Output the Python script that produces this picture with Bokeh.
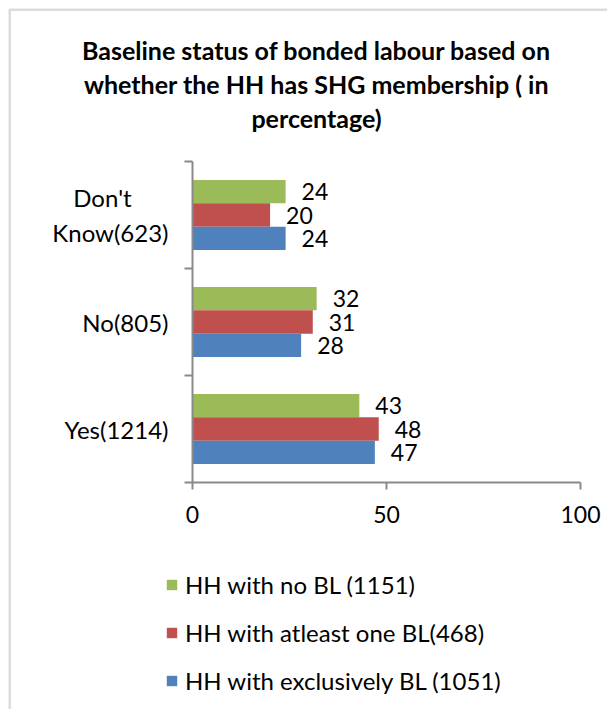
import numpy as np
from bokeh.plotting import figure
from bokeh.models import (FixedTicker, Range1d, Label, Legend, LegendItem,
                          BoxAnnotation, ColumnDataSource, LinearAxis)
from bokeh.core.properties import value
from bokeh.embed import file_html
from bokeh.resources import INLINE

# ---- data ----
categories = ["Yes(1214)", "No(805)", "Don't\u00a0\u00a0\u00a0\u00a0\u00a0\u00a0\nKnow(623)"]
series_names = ["HH with no BL (1151)", "HH with atleast one BL(468)",
                "HH with exclusively BL (1051)"]
no_bl = [43, 32, 24]
atleast_one_bl = [48, 31, 20]
exclusively_bl = [47, 28, 24]
x_ticks = [0, 50, 100]
title_lines = ["Baseline status of bonded labour based on",
               "whether the HH has SHG membership ( in",
               "percentage)"]

colors = ["#9BBB59", "#C0504D", "#4F81BD"]
FONT = "Lato"

# ---- layout (canvas pixels) ----
W, H = 607, 709
X0_PX, X100_PX = 192, 580      # where 0 and 100 sit
YTOP_PX, YBOT_PX = 161, 482    # top / bottom of the category axis
ncat = len(categories)
xs = (X100_PX - X0_PX) / 100.0
ys = (YBOT_PX - YTOP_PX) / ncat

p = figure(width=W, height=H, output_backend="svg", toolbar_location=None,
           x_range=Range1d(-X0_PX / xs, (W - X0_PX) / xs),
           y_range=Range1d(-(H - YBOT_PX) / ys, ncat + YTOP_PX / ys),
           x_axis_location=None, y_axis_location=None,
           min_border=0)
p.outline_line_color = None
p.xgrid.visible = False
p.ygrid.visible = False
p.background_fill_color = "white"
p.border_fill_color = "white"

centers = np.arange(ncat) + 0.5
bar_h = 0.218
offsets = [bar_h, 0.0, -bar_h]
series = [no_bl, atleast_one_bl, exclusively_bl]

items = []
for vals, off, col, name in zip(series, offsets, colors, series_names):
    src = ColumnDataSource(dict(y=centers + off, right=vals,
                                lab=[str(v) for v in vals]))
    r = p.hbar(y="y", left=0, right="right", height=bar_h, source=src,
               fill_color=col, line_color=None)
    p.text(x="right", y="y", text="lab", source=src, x_offset=16,
           text_align="left", text_baseline="middle",
           text_font=value(FONT), text_font_size="23px", text_color="black")
    items.append(LegendItem(label=name, renderers=[r]))

# axes
ax_col = "#898989"
xaxis = LinearAxis(fixed_location=0, bounds=(0, 100),
                   ticker=FixedTicker(ticks=x_ticks))
xaxis.axis_line_color = ax_col
xaxis.axis_line_width = 2
xaxis.major_tick_line_color = ax_col
xaxis.major_tick_line_width = 2
xaxis.major_tick_out = 7
xaxis.major_tick_in = 0
xaxis.minor_tick_line_color = None
xaxis.major_label_text_font = FONT
xaxis.major_label_text_font_size = "23px"
xaxis.major_label_text_color = "black"
xaxis.major_label_standoff = 16
p.add_layout(xaxis, "below")

yaxis = LinearAxis(fixed_location=0, bounds=(0, ncat),
                   ticker=FixedTicker(ticks=list(centers),
                                      minor_ticks=list(range(ncat + 1))))
yaxis.major_label_overrides = {float(c): lab for c, lab in zip(centers, categories)}
yaxis.axis_line_color = ax_col
yaxis.axis_line_width = 2
yaxis.major_tick_line_color = None
yaxis.major_tick_out = 0
yaxis.major_tick_in = 0
yaxis.minor_tick_line_color = ax_col
yaxis.minor_tick_line_width = 2
yaxis.minor_tick_out = 8
yaxis.minor_tick_in = 0
yaxis.major_label_text_font = FONT
yaxis.major_label_text_font_size = "24px"
yaxis.major_label_text_color = "black"
yaxis.major_label_standoff = 16
p.add_layout(yaxis, "left")

# title lines
for i, line in enumerate(title_lines):
    p.add_layout(Label(x=316, y=H - 49 - 34 * i, x_units="screen", y_units="screen",
                       text=line, text_align="center", text_baseline="middle",
                       text_font=FONT, text_font_style="bold",
                       text_font_size="25px", text_color="black"))

# outer frame (left/top edges visible)
p.add_layout(BoxAnnotation(left=9.25, right=W + 50, top=H - 9.25, bottom=-50,
                           left_units="screen", right_units="screen",
                           top_units="screen", bottom_units="screen",
                           fill_alpha=0, line_color="#8a8a8a", line_width=2.5))

legend = Legend(items=items, location=(165, H - 695), orientation="vertical",
                background_fill_alpha=0, border_line_alpha=0,
                padding=0, margin=0, spacing=19,
                glyph_width=13, glyph_height=13, label_height=24,
                label_standoff=7, label_text_font=FONT,
                label_text_font_size="24px", label_text_color="black")
p.add_layout(legend)

open("out.html", "w").write(file_html(p, INLINE))
